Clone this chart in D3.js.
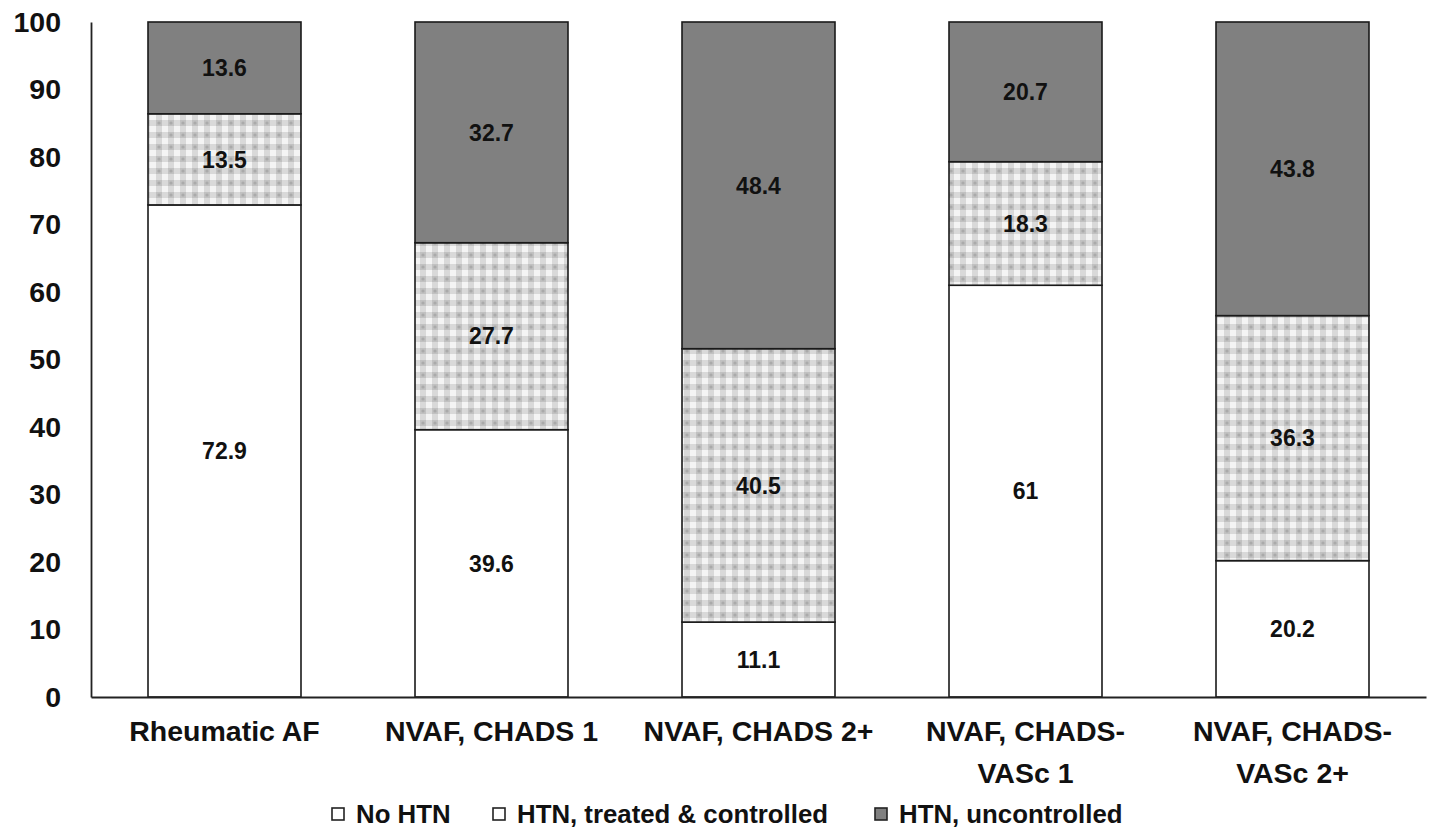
<!DOCTYPE html>
<html>
<head>
<meta charset="utf-8">
<script src="https://cdn.jsdelivr.net/npm/d3@7"></script>
<style>
  html, body { margin: 0; padding: 0; background: #fff; }
  svg { display: block; font-family: Arial, "Liberation Sans", sans-serif; font-weight: bold; }
</style>
</head>
<body>
<svg id="chart" width="1432" height="830"></svg>
<script>
// Categories (two-line labels where the name wraps)
const categories = ["Rheumatic AF", "NVAF, CHADS 1", "NVAF, CHADS 2+", "NVAF, CHADS-VASc 1", "NVAF, CHADS-VASc 2+"];
const categoryLines = [["Rheumatic AF"], ["NVAF, CHADS 1"], ["NVAF, CHADS 2+"], ["NVAF, CHADS-", "VASc 1"], ["NVAF, CHADS-", "VASc 2+"]];

// Series values (percent)
const seriesNames = ["No HTN", "HTN, treated & controlled", "HTN, uncontrolled"];
const noHTN        = [72.9, 39.6, 11.1, 61, 20.2];
const treatedCtrl  = [13.5, 27.7, 40.5, 18.3, 36.3];
const uncontrolled = [13.6, 32.7, 48.4, 20.7, 43.8];

const yTicks = [0, 10, 20, 30, 40, 50, 60, 70, 80, 90, 100];

const svg = d3.select("#chart");
const margin = { left: 91, right: 6, top: 22, bottom: 133 };
const W = 1432, H = 830;

// Gingham fill for the middle series
const defs = svg.append("defs");
const pat = defs.append("pattern")
  .attr("id", "gingham").attr("patternUnits", "userSpaceOnUse")
  .attr("width", 12).attr("height", 12);
pat.append("rect").attr("width", 12).attr("height", 12).attr("fill", "#f4f4f4");
pat.append("rect").attr("x", 0).attr("y", 0).attr("width", 6).attr("height", 12).attr("fill", "#000").attr("opacity", 0.11);
pat.append("rect").attr("x", 0).attr("y", 0).attr("width", 12).attr("height", 6).attr("fill", "#000").attr("opacity", 0.11);
pat.append("circle").attr("cx", 3).attr("cy", 3).attr("r", 1.6).attr("fill", "#000").attr("opacity", 0.12);

const fills = ["#ffffff", "url(#gingham)", "#808080"];

const x = d3.scaleBand()
  .domain(categories)
  .range([margin.left, W - margin.right])
  .paddingInner(0.427).paddingOuter(0.2135);

const y = d3.scaleLinear().domain([0, 100]).range([H - margin.bottom, margin.top]).clamp(true);

// Stack the three series
const rows = categories.map((c, i) => ({
  cat: c,
  "No HTN": noHTN[i],
  "HTN, treated & controlled": treatedCtrl[i],
  "HTN, uncontrolled": uncontrolled[i]
}));
const stacked = d3.stack().keys(seriesNames)(rows);

const g = svg.append("g");
stacked.forEach((layer, si) => {
  g.append("g").selectAll("rect")
    .data(layer)
    .join("rect")
    .attr("x", d => x(d.data.cat))
    .attr("width", x.bandwidth())
    .attr("y", d => y(d[1]))
    .attr("height", d => y(d[0]) - y(d[1]))
    .attr("fill", fills[si])
    .attr("stroke", "#1a1a1a")
    .attr("stroke-width", 1.6);
});

// Value labels at each segment centre
stacked.forEach((layer) => {
  g.append("g").selectAll("text")
    .data(layer)
    .join("text")
    .attr("x", d => x(d.data.cat) + x.bandwidth() / 2)
    .attr("y", d => (y(d[0]) + y(Math.min(d[1], 100))) / 2)
    .attr("dy", "0.36em")
    .attr("text-anchor", "middle")
    .attr("font-size", 23)
    .attr("fill", "#111")
    .text(d => d3.format("")(+(d[1] - d[0]).toFixed(1)));
});

// Y axis
const yAxis = svg.append("g")
  .attr("transform", `translate(${margin.left},0)`)
  .call(d3.axisLeft(y).tickValues(yTicks).tickSize(0).tickPadding(30));
yAxis.select(".domain").attr("stroke", "#222").attr("stroke-width", 1.8);
yAxis.selectAll("text").attr("font-size", 28.5).attr("font-weight", "bold")
  .attr("font-family", "Arial, 'Liberation Sans', sans-serif").attr("fill", "#111");

// X axis baseline
const xAxis = svg.append("g")
  .attr("transform", `translate(0,${y(0)})`)
  .call(d3.axisBottom(x).tickSize(0).tickFormat(""));
xAxis.select(".domain").attr("stroke", "#222").attr("stroke-width", 1.8);

// Category labels
const catG = svg.append("g");
categories.forEach((c, i) => {
  const t = catG.append("text")
    .attr("x", x(c) + x.bandwidth() / 2)
    .attr("y", 741)
    .attr("text-anchor", "middle")
    .attr("font-size", 28.5)
    .attr("fill", "#111");
  categoryLines[i].forEach((line, li) => {
    t.append("tspan")
      .attr("x", x(c) + x.bandwidth() / 2)
      .attr("dy", li === 0 ? 0 : 42)
      .text(line);
  });
});

// Legend
const legendX = [332, 493, 875];
const legend = svg.append("g");
seriesNames.forEach((name, i) => {
  legend.append("rect")
    .attr("x", legendX[i]).attr("y", 808)
    .attr("width", 12).attr("height", 12)
    .attr("fill", i === 2 ? "#808080" : "#fff")
    .attr("stroke", "#222").attr("stroke-width", 1.6);
  legend.append("text")
    .attr("x", legendX[i] + 24).attr("y", 823)
    .attr("font-size", 25.8)
    .attr("fill", "#111")
    .text(name);
});
</script>
</body>
</html>
